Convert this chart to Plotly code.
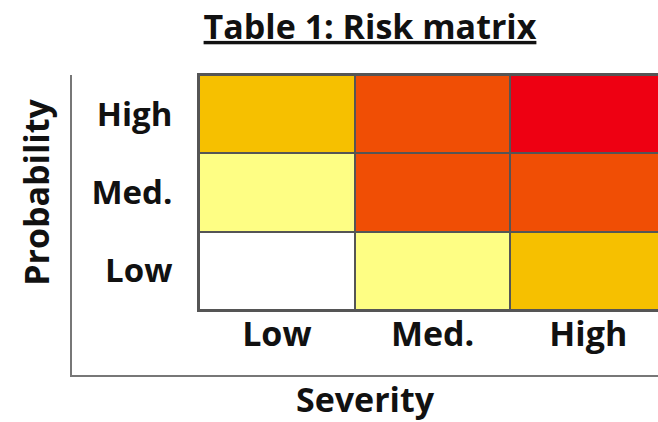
import plotly.graph_objects as go

# Data
severity = ["Low", "Med.", "High"]
probability = ["Low", "Med.", "High"]
# risk level per cell: rows = probability (Low, Med., High), cols = severity (Low, Med., High)
risk = [
    [0, 1, 2],
    [1, 3, 3],
    [2, 3, 4],
]
level_colors = ["#FFFFFF", "#FEFE84", "#F6C000", "#F04E05", "#EE0012"]
title_text = "Table 1: Risk matrix"
x_title = "Severity"
y_title = "Probability"

FONT = "Open Sans"
GRID = "#555555"

n = len(level_colors)
colorscale = []
for i, c in enumerate(level_colors):
    colorscale.append([i / n, c])
    colorscale.append([(i + 1) / n, c])

fig = go.Figure()
# gray underlay that shows through gaps as cell borders
fig.add_trace(go.Heatmap(
    x=severity, y=probability, z=[[1] * len(severity) for _ in probability],
    colorscale=[[0, GRID], [1, GRID]], showscale=False, hoverinfo="skip",
))
fig.add_trace(go.Heatmap(
    x=severity, y=probability, z=risk,
    colorscale=colorscale, zmin=-0.5, zmax=n - 0.5,
    xgap=2, ygap=2, showscale=False,
))
# empty trace to create the outer L-shaped axes
fig.add_trace(go.Scatter(x=[], y=[], xaxis="x2", yaxis="y2", showlegend=False))

fig.update_layout(
    width=658, height=422,
    margin=dict(l=72, r=0, t=75, b=47),
    paper_bgcolor="white", plot_bgcolor="rgba(0,0,0,0)",
    font=dict(family=FONT, color="#111111"),
    showlegend=False,
    title=dict(
        text="<b><u>" + title_text + "</u></b>",
        x=370 / 658, xanchor="center", xref="container",
        y=1 - 27 / 422, yanchor="middle", yref="container",
        font=dict(size=34, family=FONT, color="#111111"),
    ),
    xaxis=dict(
        domain=[(199 - 72) / 586, 1], range=[-0.5, 2.448],
        type="category", showgrid=False, zeroline=False,
        showline=True, mirror=True, linecolor=GRID, linewidth=2,
        ticks="", ticklabelstandoff=-7,
        tickfont=dict(size=34, family=FONT, weight="bold", color="#111111"),
        fixedrange=True,
    ),
    yaxis=dict(
        domain=[65 / 300, 1], range=[-0.5, 2.5],
        type="category", showgrid=False, zeroline=False,
        showline=True, linecolor=GRID, linewidth=2,
        ticks="", ticklabelstandoff=18,
        tickfont=dict(size=33, family=FONT, weight="bold", color="#111111"),
        fixedrange=True,
        title=dict(text="<b>" + y_title + "</b>", standoff=32,
                   font=dict(size=34, family=FONT, color="#111111")),
    ),
    xaxis2=dict(
        domain=[0, 1], anchor="y2", range=[0, 1], fixedrange=True,
        showgrid=False, zeroline=False, showticklabels=False, ticks="",
        showline=True, linecolor="#777777", linewidth=2,
        title=dict(text="<b>" + x_title + "</b>", standoff=18,
                   font=dict(size=34, family=FONT, color="#111111")),
    ),
    yaxis2=dict(
        domain=[0, 1], anchor="x2", range=[0, 1], fixedrange=True,
        showgrid=False, zeroline=False, showticklabels=False, ticks="",
        showline=True, linecolor="#777777", linewidth=2,
    ),
)

fig.write_html("out.html", config={"displayModeBar": False},
               post_script="document.body.style.margin='0';")
